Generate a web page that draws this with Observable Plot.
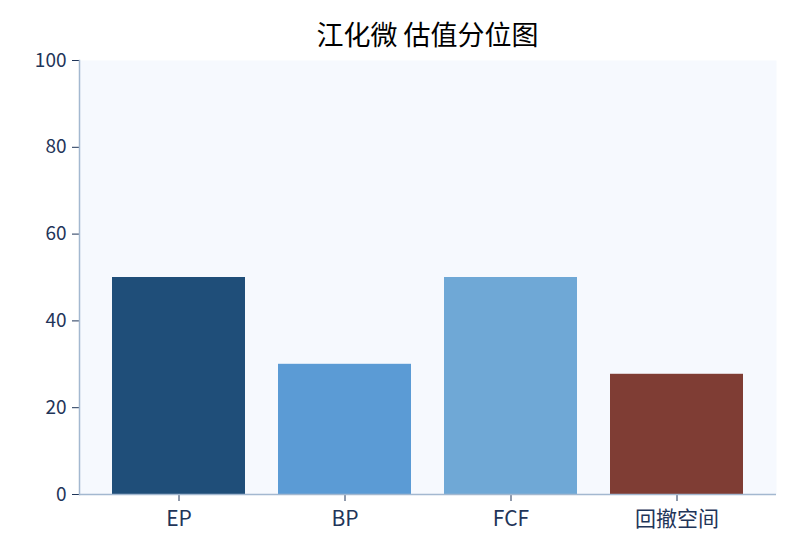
<!DOCTYPE html>
<html><head><meta charset="utf-8">
<script src="https://cdn.jsdelivr.net/npm/d3@7"></script>
<script src="https://cdn.jsdelivr.net/npm/@observablehq/plot@0.6"></script>
<style>
body{margin:0;background:#fff;font-family:"Noto Sans CJK SC","Noto Sans",sans-serif;}
#title{height:40px;width:800px;box-sizing:border-box;padding-left:55px;text-align:center;font-size:27px;line-height:68px;color:#000;white-space:nowrap;overflow:visible;}
</style></head><body>
<div id="title">江化微 估值分位图</div>
<div id="chart"></div>
<script>
const categories = ["EP","BP","FCF","回撤空间"];
const values = [50, 30, 50, 27.7];
const colors = ["#1f4e79","#5b9bd5","#6fa8d6","#7f3d34"];
const yTicks = [0,20,40,60,80,100];

const data = categories.map((c,i)=>({cat:c, v:values[i], col:colors[i]}));
const axisColor = "#a3b8d0";
const textColor = "#1f3559";

const chart = Plot.plot({
  width: 800, height: 520,
  marginLeft: 79, marginRight: 24, marginTop: 20, marginBottom: 66,
  style: {fontFamily: '"Noto Sans CJK SC","Noto Sans",sans-serif', fontSize: "16px", color: textColor, background: "#fff", overflow: "visible"},
  x: {domain: categories, paddingInner: 0.2, paddingOuter: 0.187, label: null},
  y: {domain: [0,100], label: null},
  marks: [
    Plot.frame({fill: "#f6f9fe", stroke: "none"}),
    Plot.barY(data, {x: "cat", y: "v", fill: "col"}),
    Plot.axisY({ticks: yTicks, tickSize: 7, tickPadding: 6, fontSize: 19, stroke: textColor, color: textColor}),
    Plot.axisX({tickSize: 7, tickPadding: 10, fontSize: 21, stroke: textColor, color: textColor}),
    Plot.ruleY([0], {stroke: axisColor, strokeWidth: 1.5}),
    Plot.frame({anchor: "left", stroke: axisColor, strokeWidth: 1.5})
  ]
});
document.getElementById("chart").appendChild(chart);
</script>
</body></html>
